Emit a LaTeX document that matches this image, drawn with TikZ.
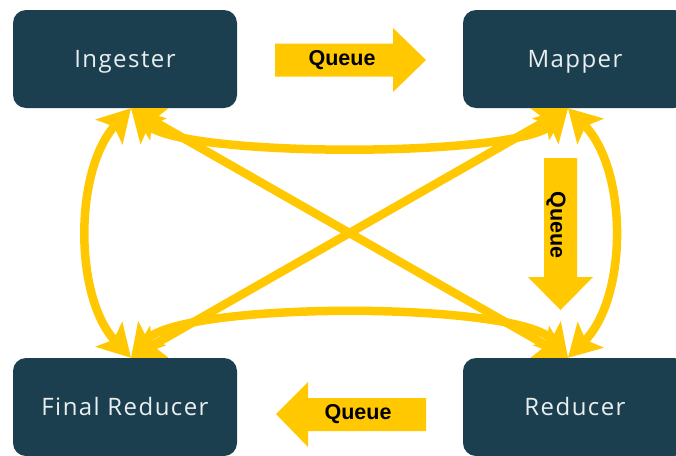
\documentclass[tikz,border=0pt]{standalone}
\usepackage{fontspec}
\setmainfont{Open Sans}[LetterSpace=6]
\newfontfamily\queuefont{Liberation Sans}
\usetikzlibrary{arrows.meta}
\definecolor{boxteal}{HTML}{1B3F4E}
\definecolor{flowgold}{HTML}{FFC800}
\definecolor{labelwhite}{HTML}{E9EEF1}
\tikzset{headtip/.tip={Stealth[length=32pt,width=36pt,inset=7pt]}}

\begin{document}
\begin{tikzpicture}[x=1pt,y=-1pt,
  stage/.style={fill=boxteal, rounded corners=13pt, minimum width=224pt,
    minimum height=98pt, inner sep=0pt, text=labelwhite,
    text height=17pt, text depth=0pt,
    font=\fontsize{24pt}{28pt}\selectfont},
  link/.style={draw=flowgold, line width=8.5pt, headtip-headtip},
  queueshape/.style={fill=flowgold},
  qlabel/.style={font=\queuefont\bfseries\fontsize{21.5pt}{26pt}\selectfont,
    text=black, inner sep=0pt}]

\fill[white] (0,0) rectangle (676,455);
\useasboundingbox (0,0) rectangle (676,455);

% processing stages
\node[stage] (ing) at (125,59)  {Ingester};
\node[stage] (map) at (575,59)  {Mapper};
\node[stage] (red) at (575,407) {Reducer};
\node[stage] (fin) at (125,407) {Final Reducer};

% meeting points of the control links on each stage
\coordinate (ingT) at ([xshift=6pt]ing.south);
\coordinate (mapT) at ([xshift=-7pt]map.south);
\coordinate (redT) at ([xshift=-7pt]red.north);
\coordinate (finT) at ([xshift=6pt]fin.north);

% two-way links between every pair of stages
\draw[link] (ingT) .. controls (180,158) and (519,158) .. (mapT);
\draw[link] (finT) .. controls (180,301) and (519,301) .. (redT);
\draw[link] (ingT) .. controls (74,170) and (74,297) .. (finT);
\draw[link] (mapT) .. controls (628,170) and (628,297) .. (redT);
\draw[link] (ingT) -- (redT);
\draw[link] (mapT) -- (finT);

% queues between consecutive stages
\fill[queueshape] (275,43.5) -- (393,43.5) -- (393,28) -- (426,60) -- (393,92)
  -- (393,76.5) -- (275,76.5) -- cycle;
\node[qlabel] (q1) at (342,60) {Queue};

\fill[queueshape] (544,158) -- (577,158) -- (577,277) -- (593,277) -- (560.5,310)
  -- (528,277) -- (544,277) -- cycle;
\node[qlabel, rotate=-90] (q2) at (556,225) {Queue};

\fill[queueshape] (426,398) -- (308,398) -- (308,382) -- (276,414) -- (308,447)
  -- (308,431) -- (426,431) -- cycle;
\node[qlabel] (q3) at (358,414) {Queue};
\end{tikzpicture}
\end{document}
